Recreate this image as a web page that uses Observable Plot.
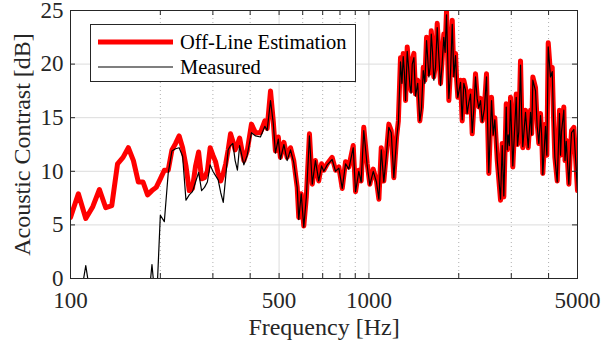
<!DOCTYPE html>
<html><head><meta charset="utf-8">
<script src="https://cdn.jsdelivr.net/npm/d3@7"></script>
<script src="https://cdn.jsdelivr.net/npm/@observablehq/plot@0.6"></script>
<style>
body{margin:0;background:#fff;}
#wrap{position:relative;width:601px;height:346px;}
#legend{position:absolute;left:90px;top:24px;width:266px;height:58px;border:1px solid #262626;background:#fff;box-sizing:border-box;}
#legend svg{position:absolute;left:0;top:0;}
svg, svg text{font-family:"Liberation Serif",serif !important;}
</style>
</head><body>
<div id="wrap"><div id="legend"></div></div>
<script>
const freqs = [100,106.25,112.5,118.75,125,131.25,137.5,143.75,150,156.25,162.5,168.75,175,181.25,187.5,193.75,200,206.25,212.5,218.75,225,231.25,237.5,243.75,250,256.25,262.5,268.75,275,281.25,287.5,293.75,300,306.25,312.5,318.75,325,331.25,337.5,343.75,350,356.25,362.5,368.75,
381,391,404,417,433,448,456,468,478,486,497,505,519,532,546,560,575,582,593,605,617,632,646,662,679,694,706,725,753,773,793,814,835,856,886,902,925,942,961,987,1007,1034,1060,1080,1100,1122,1146,1166,1188,1212,1238,1255,1276,1303,1327,1344,1372,1397,1433,1481,1521,1560,1588,1618,1650,1694,1738,1782,1820,1853,1902,1951,1986,2028,2054,2107,2162,2219,2276,2335,2397,2478,2522,2576,2642,2692,2761,2797,2832,2885,2929,2982,3035,3116,3179,3221,3278,3348,3418,3480,3542,3617,3710,3759,3826,3906,3989,4060,4114,4198,4276,4352,4420,4499,4584,4677,4775,4861,4925,5000];
const offline = [5.7,7.9,5.6,6.7,8.3,6.6,6.8,10.7,11.3,12.2,11.0,9.0,9.0,7.8,8.2,8.5,9.3,10.1,10.1,12.0,12.6,13.3,12.2,10.5,8.2,8.4,10.5,11.8,9.3,9.4,10.0,12.2,11.5,10.9,9.8,9.1,9.8,10.7,12.0,13.5,12.8,12.0,12.5,13.1,
11.0,11.9,14.4,13.6,13.6,14.7,14.0,17.5,14.7,11.9,13.2,11.3,12.7,11.3,12.2,11.0,8.5,5.7,7.9,4.9,7.6,13.5,8.8,11.0,9.1,10.7,10.1,10.7,11.3,10.1,10.4,8.4,10.9,10.4,12.4,8.1,10.1,9.1,14.1,10.7,8.8,10.2,9.1,7.4,12.2,9.1,11.9,14.4,13.8,9.4,13.2,14.7,20.6,21.0,16.6,21.6,18.2,20.3,17.2,14.7,19.7,22.5,19.1,23.1,18.8,23.8,18.2,22.8,25.0,16.6,24.1,21.0,16.9,18.5,14.7,17.8,16.6,13.5,19.1,16.0,14.7,19.1,9.8,16.9,15.0,11.0,7.3,12.6,7.6,16.3,13.5,16.9,10.4,17.2,13.8,20.3,12.2,15.7,12.2,15.7,18.8,17.8,12.6,15.4,9.8,14.4,22.0,19.1,19.7,11.3,9.1,15.7,13.8,16.0,12.9,8.8,13.8,14.1,11.3,8.2];
const measured = [-3,-3,1.2,-3,-3,-3,-3,-3,-3,-3,-3,-3,-3,-3,1.3,-3,5.9,5.3,9.8,11.9,12.1,12.2,11.4,7.3,7.8,8.1,9.0,9.9,8.2,8.5,9.0,10.6,10.0,9.6,9.2,8.0,7.1,9.5,12.0,12.4,12.6,11.0,10.1,12.4,
10.6,11.5,13.6,13.3,13.2,14.2,13.8,16.6,14.5,11.7,13.0,11.1,12.5,11.0,12.0,10.8,8.5,5.5,7.9,4.8,7.6,13.3,8.8,11.0,9.1,10.5,10.0,10.6,11.1,10.0,10.3,8.4,10.7,10.2,12.2,8.1,10.0,9.0,13.8,10.5,8.7,10.0,9.0,7.4,12.0,9.0,11.7,14.1,13.6,9.4,13.0,14.5,20.2,20.7,16.6,21.2,18.0,20.0,17.0,14.7,19.4,22.2,18.8,22.8,18.5,23.4,18.0,22.5,24.6,16.8,23.7,20.8,16.9,18.3,14.8,17.6,16.4,13.6,18.8,15.9,14.6,18.8,9.9,16.6,14.8,11.0,7.4,12.4,7.7,16.0,13.4,16.6,10.5,16.9,13.7,19.9,12.3,15.5,12.2,15.5,18.5,17.5,12.6,15.2,9.7,14.2,21.6,18.8,19.3,11.3,9.0,15.4,13.7,15.7,12.8,8.8,13.6,13.9,11.2,8.2];
// extra readings in the dense high-frequency band
const denseFreqs = [1290,1315,1358,1385,1415,1457,1500,1540,1574,1603,1634,1672,1716,1760,1800,1877,1926,1968,2041,2080,2134,2190,2247,2305,2366,2437,2609,2667,2907,2955,3147,3250,3383,3511,3663,3792,3947,4156,4386,4541,4726];
const denseOffline = [18.5,19.5,20.0,17.5,21.0,18.5,16.0,18.5,21.0,20.0,21.5,20.0,21.0,20.5,21.5,19.5,19.0,18.5,16.5,18.5,15.5,17.5,16.0,17.0,16.8,16.0,13.5,13.0,12.0,12.5,12.5,15.5,14.0,13.5,14.5,13.5,11.5,15.0,11.5,11.0,11.5];
const denseMeasured = [18.2,19.2,19.7,17.3,20.6,18.2,15.8,18.2,20.6,19.7,21.1,19.7,20.6,20.1,21.1,19.2,18.8,18.3,16.3,18.2,15.4,17.2,15.8,16.8,16.6,15.8,13.4,12.9,12.0,12.4,12.4,15.2,13.8,13.4,14.2,13.4,11.5,14.7,11.5,11.0,11.4];
const majorX = [100,500,1000,5000];
const minorX = [200,300,400,600,700,800,900,2000,3000,4000];
const yTicks = [0,5,10,15,20,25];
const seriesNames = ["Off-Line Estimation","Measured"];

const data = freqs.map((f,i)=>({f, off: offline[i], meas: measured[i]}))
  .concat(denseFreqs.map((f,i)=>({f, off: denseOffline[i], meas: denseMeasured[i]})))
  .sort((a,b)=>a.f-b.f);
const W=601,H=346,mL=70,mR=24,mT=10,mB=68;
const fw=W-mL-mR, fh=H-mT-mB;
const font = "Liberation Serif";
const chart = Plot.plot({
  width:W,height:H,marginLeft:mL,marginRight:mR,marginTop:mT,marginBottom:mB,
  style:{fontFamily:font,fontSize:"23px",background:"white",color:"#262626",overflow:"visible"},
  x:{type:"log",domain:[100,5000]},
  y:{domain:[0,25]},
  marks:[
    Plot.gridX(minorX,{stroke:"#b0b0b0",strokeOpacity:1,strokeDasharray:"1,3"}),
    Plot.gridX(majorX,{stroke:"#dcdcdc",strokeOpacity:1}),
    Plot.gridY(yTicks,{stroke:"#dcdcdc",strokeOpacity:1}),
    Plot.line(data,{x:"f",y:"off",stroke:"#ff0000",strokeWidth:5,strokeLinejoin:"round",clip:true}),
    Plot.line(data,{x:"f",y:"meas",stroke:"#000",strokeWidth:1.2,clip:true}),
    Plot.frame({stroke:"#262626",strokeWidth:1}),
    Plot.tickX([...majorX,...minorX],{x:d=>d,stroke:"#262626",insetTop:fh-5}),
    Plot.tickX([...majorX,...minorX],{x:d=>d,stroke:"#262626",insetBottom:fh-5}),
    Plot.tickY(yTicks,{y:d=>d,stroke:"#262626",insetRight:fw-5}),
    Plot.tickY(yTicks,{y:d=>d,stroke:"#262626",insetLeft:fw-5}),
    Plot.axisX({ticks:majorX,tickSize:0,tickPadding:13,tickFormat:d=>String(d),fontSize:23,fontFamily:font,fill:"#262626",label:null}),
    Plot.axisY({ticks:yTicks,tickSize:0,tickPadding:7,tickFormat:d=>String(d),fontSize:23,fontFamily:font,fill:"#262626",label:null}),
    Plot.axisX({ticks:[],tickSize:0,label:"Frequency [Hz]",labelAnchor:"center",labelArrow:"none",labelOffset:56,fontSize:24,fontFamily:font,fill:"#262626"}),
    Plot.axisY({ticks:[],tickSize:0,label:"Acoustic Contrast [dB]",labelAnchor:"center",labelArrow:"none",labelOffset:58,fontSize:24,fontFamily:font,fill:"#262626"})
  ]
});
document.getElementById("wrap").prepend(chart);

// legend
const lg = d3.select("#legend").append("svg").attr("width",266).attr("height",58)
  .style("font-size","20.5px");
const rows = [{name:seriesNames[0],stroke:"#ff0000",w:5,y:17},{name:seriesNames[1],stroke:"#000",w:1.2,y:42}];
rows.forEach(r=>{
  lg.append("line").attr("x1",7).attr("x2",82).attr("y1",r.y).attr("y2",r.y).attr("stroke",r.stroke).attr("stroke-width",r.w);
  lg.append("text").attr("x",89).attr("y",r.y).attr("dy","0.35em").attr("fill","#000").text(r.name);
});
</script>
</body></html>
